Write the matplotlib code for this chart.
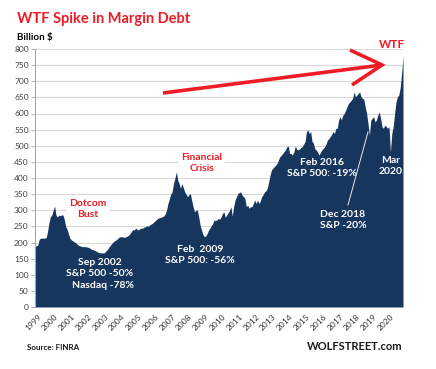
import matplotlib
matplotlib.use("Agg")
import matplotlib.pyplot as plt
import matplotlib.transforms as mtransforms
import numpy as np

plt.rcParams['font.family'] = ['Lato', 'DejaVu Sans']

years = list(range(1999, 2021))
year_labels = [str(y) for y in years]

# Monthly margin debt, billion $
v1999 = [188, 190, 192, 210, 213, 214, 213, 214, 215, 235, 262, 280]
v2000 = [285, 300, 313, 285, 279, 285, 283, 286, 285, 270, 249, 240]
v2001 = [225, 213, 208, 205, 202, 200, 195, 192, 190, 188, 187, 187]
v2002 = [187, 186, 185, 183, 180, 178, 177, 175, 172, 170, 168, 168]
v2003 = [168, 167, 170, 175, 180, 187, 192, 198, 202, 206, 208, 212]
v2004 = [216, 218, 218, 217, 216, 218, 220, 223, 228, 235, 240, 239]
v2005 = [245, 240, 239, 243, 245, 244, 248, 249, 252, 250, 255, 257]
v2006 = [260, 264, 268, 272, 275, 278, 278, 280, 282, 288, 300, 321]
v2007 = [335, 350, 357, 383, 399, 419, 394, 383, 368, 383, 370, 357]
v2008 = [350, 342, 348, 352, 330, 311, 295, 300, 301, 280, 254, 239]
v2009 = [225, 218, 220, 228, 238, 245, 252, 259, 270, 268, 270, 275]
v2010 = [272, 280, 290, 295, 278, 285, 292, 300, 311, 282, 312, 332]
v2011 = [342, 352, 355, 357, 347, 342, 337, 311, 316, 306, 311, 311]
v2012 = [320, 332, 321, 332, 321, 328, 342, 348, 357, 360, 368, 388]
v2013 = [409, 425, 430, 435, 440, 445, 456, 466, 470, 476, 482, 487]
v2014 = [497, 499, 476, 476, 471, 481, 499, 489, 487, 490, 495, 497]
v2015 = [505, 513, 544, 549, 538, 544, 513, 508, 490, 487, 480, 471]
v2016 = [480, 487, 492, 497, 505, 518, 522, 528, 535, 544, 538, 554]
v2017 = [554, 580, 590, 580, 595, 600, 610, 621, 631, 636, 641, 647]
v2018 = [667, 652, 657, 662, 667, 652, 647, 644, 620, 600, 569, 533]
v2019 = [580, 585, 590, 574, 580, 595, 605, 585, 559, 554, 564, 560]
v2020 = [554, 559, 481, 538, 560, 600, 636, 652, 657, 680, 724, 778]

values = np.array(v1999 + v2000 + v2001 + v2002 + v2003 + v2004 + v2005 + v2006 +
                  v2007 + v2008 + v2009 + v2010 + v2011 + v2012 + v2013 + v2014 +
                  v2015 + v2016 + v2017 + v2018 + v2019 + v2020, dtype=float)
months = np.arange(len(values))

NAVY = '#17365d'
RED = '#ee1c25'

fig = plt.figure(figsize=(4.36, 3.69), dpi=100)
ax = fig.add_axes([35/436, 1 - 307/369, (403-35)/436, (307-49)/369])

ax.fill_between(months, 0, values, color=NAVY, linewidth=0, zorder=2)
ax.set_xlim(0, len(values) - 1)
ax.set_ylim(0, 800)
ax.set_yticks(np.arange(0, 801, 50))
ax.yaxis.grid(True, color='#d9d9d9', linewidth=0.8, zorder=0)
ax.set_axisbelow(True)
for s in ['top', 'right', 'bottom']:
    ax.spines[s].set_visible(False)
ax.spines['left'].set_color('#a6a6a6')
ax.spines['left'].set_linewidth(0.8)
ax.tick_params(axis='y', length=3, width=0.6, color='#a6a6a6', labelsize=6,
               labelcolor='#404040', pad=1.5)

ax.set_xticks(months[::12])
ax.set_xticklabels(year_labels, rotation=45, ha='right', va='center',
                   rotation_mode='anchor', fontsize=6, color='#333333')
ax.tick_params(axis='x', length=0, pad=6)
offset = mtransforms.ScaledTranslation(5/100, 0, fig.dpi_scale_trans)
for lab in ax.get_xticklabels():
    lab.set_transform(lab.get_transform() + offset)

def fig_xy(x, y):
    return (x/436, 1 - y/369)

# Title and labels
fig.text(*fig_xy(17, 23), 'WTF Spike in Margin Debt', color=RED, fontsize=10.5,
         fontweight='bold', ha='left', va='baseline')
fig.text(*fig_xy(17, 40), 'Billion $', color='black', fontsize=7,
         fontweight='bold', ha='left', va='baseline')
fig.text(*fig_xy(27, 350), 'Source: FINRA', color='#1a1a1a', fontsize=5.8,
         fontweight='bold', ha='left', va='baseline')
fig.text(*fig_xy(403, 350), 'WOLFSTREET.com', color='#1a1a1a', fontsize=8,
         fontweight='bold', ha='right', va='baseline')

# Red annotations with white background
for txt, (x, y) in [('Dotcom\nBust', (88, 209)), ('Financial\nCrisis', (202, 163))]:
    fig.text(*fig_xy(x, y), txt, color=RED, fontsize=7.5, fontweight='bold',
             ha='center', va='center', linespacing=1.3,
             bbox=dict(facecolor='white', edgecolor='none', pad=1.5), zorder=5)

# White annotations
white_notes = [
    ('Sep 2002\nS&P 500 -50%\n  Nasdaq -78%', (100, 274)),
    ('Feb  2009\nS&P 500: -56%', (200, 255)),
    ('Feb 2016\nS&P 500: -19%', (322, 168)),
    ('Dec 2018\nS&P -20%', (343, 220)),
    ('Mar\n2020', (391, 166)),
]
for txt, (x, y) in white_notes:
    fig.text(*fig_xy(x, y), txt, color='white', fontsize=7.5, fontweight='bold',
             ha='center', va='center', linespacing=1.3, zorder=5)

# thin pointer to Dec 2018 dip
fig.add_artist(plt.Line2D([348/436, 368/436], [1 - 205/369, 1 - 132/369],
                          color='#e8e8e8', linewidth=0.7, zorder=5))

# Big red arrow
arrow_kw = dict(color=RED, linewidth=2.6, solid_capstyle='butt', zorder=6)
fig.add_artist(plt.Line2D([163/436, 382/436], [1 - 93/369, 1 - 65/369], **arrow_kw))
fig.add_artist(plt.Line2D([350/436, 382/436, 352/436], [1 - 50/369, 1 - 65/369, 1 - 85/369],
                          solid_joinstyle='miter', **arrow_kw))
fig.text(*fig_xy(392, 45), 'WTF', color=RED, fontsize=8.5, fontweight='bold',
         ha='center', va='center', zorder=6)

fig.savefig('out.png', dpi=100)
